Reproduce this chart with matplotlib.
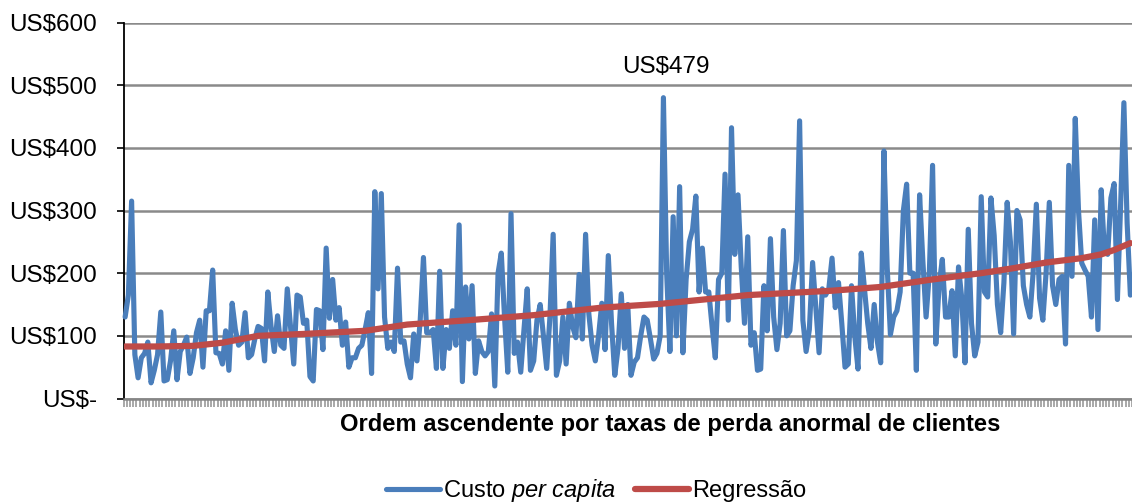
import numpy as np
import matplotlib
matplotlib.use('Agg')
import matplotlib.pyplot as plt

plt.rcParams['font.family'] = ['Liberation Sans', 'DejaVu Sans']
plt.rcParams['mathtext.fontset'] = 'custom'
plt.rcParams['mathtext.rm'] = 'Liberation Sans'
plt.rcParams['mathtext.it'] = 'Liberation Sans:italic'

# custo per capita, ordem ascendente
custo_a = [130, 165, 315, 70, 33, 65, 72, 90, 25, 45, 70, 138, 28, 30, 60, 108, 30, 75, 85, 98,
           40, 65, 105, 125, 50, 140, 140, 205, 73, 72, 55, 108, 45, 152, 110, 85, 90, 137, 65, 70,
           95, 115, 112, 60, 170, 115, 75, 132, 85, 80, 175, 115, 55, 165, 162, 120, 125, 35, 28, 142,
           140, 78, 240, 128, 190, 125, 145, 85, 122, 50, 65, 65, 80, 85, 110, 137, 40, 330]
custo_b = [175, 327, 130, 80, 90, 75, 208, 90, 92, 55, 33, 103, 60, 125, 225, 105, 105, 110, 48, 203,
           48, 110, 80, 140, 85, 277, 27, 178, 95, 180, 40, 92, 75, 68, 75, 135, 20, 200, 232, 130,
           42, 295, 72, 90, 42, 110, 175, 45, 60, 125, 150, 100, 48, 130, 262, 37, 60, 130, 55, 152,
           115, 97, 198, 95, 262, 135, 85, 60, 100, 152, 78, 228, 120, 37, 80, 167, 80, 150, 37, 58,
           65, 100, 130, 125, 95, 63, 72, 100, 480, 200, 75, 290, 100, 338, 73, 190, 250, 270, 323, 170,
           240, 170, 170, 115, 65, 190, 200, 358, 125, 432, 230, 325, 210, 120, 258]
custo_c = [85, 105, 45, 47, 180, 108, 255, 130, 78, 120, 268, 100, 108, 180, 220, 443, 125, 75, 110, 217,
           145, 73, 175, 165, 175, 224, 145, 185, 120, 50, 55, 180, 100, 47, 232, 175, 120, 80, 150, 90,
           57, 395, 210, 102, 130, 140, 170, 300, 342, 200, 200, 45, 325, 220, 130, 200, 372, 87, 180, 222,
           130, 130, 172, 68, 210, 160, 57, 270, 120, 68, 90, 322, 170, 162, 320, 260, 150, 105, 185, 313,
           250, 103, 300, 285, 180, 150, 130, 200, 310, 160, 125, 200, 313, 180, 150, 190, 195, 87, 372, 195,
           447, 300, 216, 205, 195, 130, 285, 110, 333, 235, 230, 320, 343, 158, 310, 472, 280, 165]
custo = custo_a + custo_b + custo_c

# regressao lida em alguns pontos da curva
reg_pos = [0, 10, 21, 30, 41, 55, 74, 87, 106, 126, 147, 165, 192, 218, 233, 249, 264, 274, 284, 295, 301, 305, 310]
reg_val = [83, 83, 84, 89, 100, 103, 108, 118, 125, 133, 145, 151, 165, 172, 178, 190, 200, 208, 217, 224, 230, 237, 248]

y_ticks = [0, 100, 200, 300, 400, 500, 600]
y_labels = ['US$-', 'US$100', 'US$200', 'US$300', 'US$400', 'US$500', 'US$600']

W, H = 1132, 503
fig = plt.figure(figsize=(W / 100, H / 100), dpi=100)
ax = fig.add_axes([123.5 / W, 1 - 398.5 / H, (W - 123.5) / W, (398.5 - 22.5) / H])

x = np.arange(len(custo))
ax.plot(x, custo, color='#4A7EBB', lw=3.7, solid_joinstyle='round', solid_capstyle='round',
        label=r'Custo $\mathit{per\ capita}$', clip_on=False, zorder=3)
ax.plot(reg_pos, reg_val, color='#BE4B48', lw=4.5, solid_joinstyle='round', solid_capstyle='round',
        label='Regressão', zorder=4)

ax.set_xlim(-0.5, len(custo) - 0.5)
ax.set_ylim(0, 600)
ax.set_yticks(y_ticks)
ax.set_yticklabels(y_labels, fontsize=17.5, color='black')
ax.set_xticks(np.arange(len(custo) + 1) - 0.5)
ax.set_xticklabels([])
ax.tick_params(axis='x', length=5.5, width=1.2, color='#999999')
ax.tick_params(axis='y', length=5, width=1.2, color='black', pad=14)
ax.grid(axis='y', color='#8a8a8a', lw=1.8, zorder=1)
ax.set_axisbelow(True)

for s in ['top', 'right']:
    ax.spines[s].set_visible(False)
ax.spines['left'].set_linewidth(1.3)
ax.spines['bottom'].set_color('#868686')
ax.spines['bottom'].set_linewidth(1.8)

fig.text(670.5 / W, 1 - 424.5 / H, 'Ordem ascendente por taxas de perda anormal de clientes',
         ha='center', va='center', fontsize=17.15, fontweight='bold')
ax.annotate('US$479', xy=(custo.index(480), 480), xycoords='data', xytext=(666 / W, 1 - 67 / H),
            textcoords='figure fraction', ha='center', va='center', fontsize=17.5)

fig.legend(loc='center', bbox_to_anchor=(596 / W, 1 - 491 / H), ncol=2, frameon=False, fontsize=17,
           handlelength=2.3, handletextpad=0.12, columnspacing=0.8, borderpad=0, borderaxespad=0)

fig.savefig('out.png', dpi=100)
